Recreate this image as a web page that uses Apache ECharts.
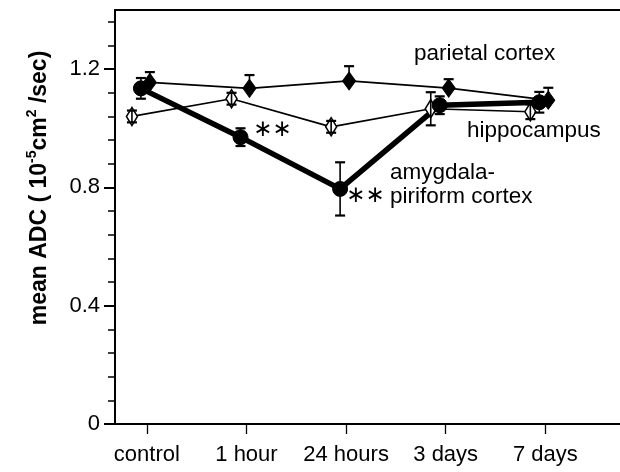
<!DOCTYPE html>
<html>
<head>
<meta charset="utf-8">
<script src="https://cdn.jsdelivr.net/npm/echarts@6/dist/echarts.min.js"></script>
<style>html,body{margin:0;padding:0;background:#fff}#c{width:620px;height:472px}</style>
</head>
<body>
<div id="c"></div>
<script>
// ---- data ----
const categories = ['control', '1 hour', '24 hours', '3 days', '7 days'];
const yTickLabels = ['0', '0.4', '0.8', '1.2'];
const parietal = [1.155, 1.135, 1.16, 1.136, 1.095];
const parietalErr = [0.035, 0.045, 0.05, 0.03, 0.042];
const hippocampus = [1.04, 1.10, 1.005, 1.066, 1.056];
const hippocampusErr = [0.02, 0.02, 0.02, 0.056, 0.025];
const amygdala = [1.135, 0.97, 0.795, 1.078, 1.088];
const amygdalaErr = [0.035, 0.03, 0.09, 0.03, 0.035];

// ---- chart ----
const FONT = '"Liberation Sans", Arial, Helvetica, sans-serif';
const yTickValues = yTickLabels.map(Number);
const minorTicks = [];
for (let k = 1; k < 18; k++) minorTicks.push(Math.round(k * 0.08 * 1000) / 1000);
const catIdx = categories.map((c, i) => i);

function pts(vals, off) { return vals.map((v, i) => [i + off, v]); }
function errs(vals, e, off) { return vals.map((v, i) => [i + off, v - e[i], v + e[i]]); }

const OFF_H = -0.15, OFF_A = -0.06, OFF_P = 0.03;

function makeErrRender(showLower) {
  return function (params, api) {
    const x = api.value(0);
    const mid = api.coord([x, (api.value(1) + api.value(2)) / 2]);
    const lo = api.coord([x, api.value(1)]);
    const hi = api.coord([x, api.value(2)]);
    const w = 5;
    const capStyle = { stroke: '#000', lineWidth: 2.2 };
    const children = [
      { type: 'line', shape: { x1: hi[0], y1: hi[1], x2: showLower ? lo[0] : mid[0], y2: showLower ? lo[1] : mid[1] }, style: { stroke: '#000', lineWidth: 1.6 } },
      { type: 'line', shape: { x1: hi[0] - w, y1: hi[1], x2: hi[0] + w, y2: hi[1] }, style: capStyle }
    ];
    if (showLower) children.push({ type: 'line', shape: { x1: lo[0] - w, y1: lo[1], x2: lo[0] + w, y2: lo[1] }, style: capStyle });
    return { type: 'group', children };
  };
}

const chart = echarts.init(document.getElementById('c'), null, { renderer: 'canvas' });
chart.setOption({
  animation: false,
  backgroundColor: '#fff',
  grid: { left: 115, top: 10, right: 0, bottom: 48, containLabel: false },
  xAxis: [{
    type: 'value', min: -0.32, max: 4.75,
    splitLine: { show: false },
    axisLine: { show: true, onZero: false, lineStyle: { color: '#000', width: 2 } },
    axisTick: { show: true, customValues: catIdx, length: 10, inside: false, lineStyle: { color: '#000', width: 1.3 } },
    axisLabel: { customValues: catIdx, formatter: v => categories[Math.round(v)], color: '#000', fontFamily: FONT, fontSize: 22, margin: 20 }
  }, {
    type: 'value', position: 'top', min: -0.32, max: 4.75,
    splitLine: { show: false },
    axisLine: { show: true, onZero: false, lineStyle: { color: '#000', width: 2 } },
    axisTick: { show: false }, axisLabel: { show: false }
  }],
  yAxis: [{
    type: 'value', min: 0, max: 1.4,
    splitLine: { show: false },
    axisLine: { show: true, onZero: false, lineStyle: { color: '#000', width: 2 } },
    axisTick: { show: true, customValues: yTickValues, length: 11, lineStyle: { color: '#000', width: 2 } },
    axisLabel: { customValues: yTickValues, formatter: v => yTickLabels[yTickValues.indexOf(v)] ?? '', color: '#000', fontFamily: FONT, fontSize: 22, margin: 15 }
  }, {
    type: 'value', position: 'left', min: 0, max: 1.4,
    splitLine: { show: false },
    axisLine: { show: false, onZero: false },
    axisTick: { show: true, customValues: minorTicks, length: 7, lineStyle: { color: '#000', width: 1.5 } },
    axisLabel: { show: false }
  }],
  series: [
    {
      name: 'parietal cortex', type: 'line', data: pts(parietal, OFF_P), z: 2,
      lineStyle: { color: '#000', width: 1.7 },
      symbol: 'diamond', symbolSize: [13, 18],
      itemStyle: { color: '#000', borderColor: '#000', borderWidth: 1 }
    },
    {
      name: 'hippocampus', type: 'line', data: pts(hippocampus, OFF_H), z: 2,
      lineStyle: { color: '#000', width: 1.7 },
      symbol: 'diamond', symbolSize: [11, 18],
      itemStyle: { color: '#fff', borderColor: '#000', borderWidth: 1.6 }
    },
    {
      name: 'amygdala-piriform cortex', type: 'line', data: pts(amygdala, OFF_A), z: 2,
      lineStyle: { color: '#000', width: 5.5 },
      symbol: 'circle', symbolSize: 15,
      itemStyle: { color: '#000', borderColor: '#000', borderWidth: 1 }
    },
    { type: 'custom', renderItem: makeErrRender(false), data: errs(parietal, parietalErr, OFF_P), z: 3, encode: { x: 0, y: [1, 2] } },
    { type: 'custom', renderItem: makeErrRender(true), data: errs(hippocampus, hippocampusErr, OFF_H), z: 3, encode: { x: 0, y: [1, 2] } },
    { type: 'custom', renderItem: makeErrRender(true), data: errs(amygdala, amygdalaErr, OFF_A), z: 3, encode: { x: 0, y: [1, 2] } }
  ],
  graphic: [
    { type: 'text', left: 414, top: 42, style: { text: 'parietal cortex', font: '22.5px ' + FONT, fill: '#000' } },
    { type: 'text', left: 467, top: 119, style: { text: 'hippocampus', font: '22.5px ' + FONT, fill: '#000' } },
    { type: 'text', left: 390, top: 161, style: { text: 'amygdala-\npiriform cortex', font: '22.5px ' + FONT, fill: '#000', lineHeight: 24 } },
    { type: 'text', left: 253, top: 119, style: { text: '∗∗', font: '23px "DejaVu Sans", sans-serif', fill: '#000' } },
    { type: 'text', left: 346, top: 185, style: { text: '∗∗', font: '23px "DejaVu Sans", sans-serif', fill: '#000' } },
    {
      type: 'text', x: 40, y: 188, rotation: Math.PI / 2,
      style: {
        text: '{b|mean ADC ( 10}{s|-5}{b|cm}{s|2}{b| /sec)}',
        align: 'center', verticalAlign: 'middle',
        rich: {
          b: { font: 'bold 23px ' + FONT, fill: '#000' },
          s: { font: 'bold 14px ' + FONT, fill: '#000', padding: [0, 0, 15, 0] }
        }
      }
    }
  ]
});
</script>
</body>
</html>
